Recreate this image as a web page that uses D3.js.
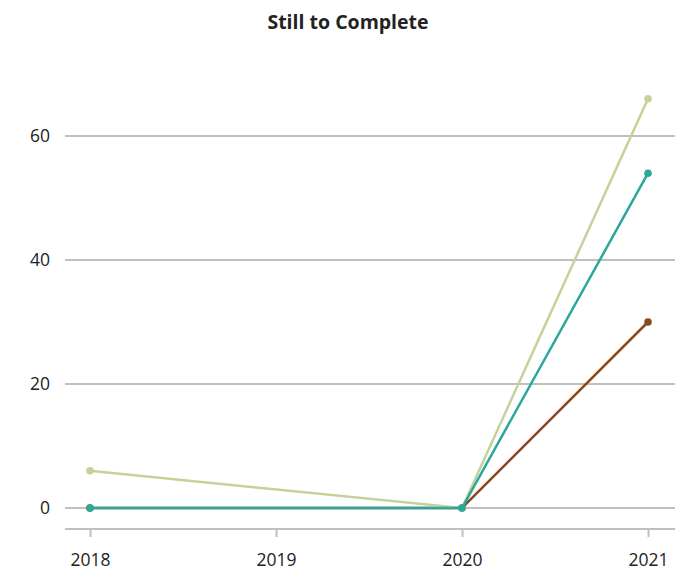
<!DOCTYPE html>
<html>
<head>
<meta charset="utf-8">
<script src="https://cdn.jsdelivr.net/npm/d3@7"></script>
<style>
  body { margin: 0; background: #fff; }
  svg text { font-family: "Open Sans", "Noto Sans", sans-serif; fill: #222; }
</style>
</head>
<body>
<svg id="chart" width="675" height="573"></svg>
<script>
const years = [2018, 2019, 2020, 2021];
const yTicks = [0, 20, 40, 60];
const seriesBrown = [0, null, 0, 30];
const seriesGreen = [6, null, 0, 66];
const seriesTeal = [0, null, 0, 54];

const series = [
  { name: "brown", color: "#8b4a1e", values: seriesBrown },
  { name: "green", color: "#c5d297", values: seriesGreen },
  { name: "teal", color: "#2ba89c", values: seriesTeal }
];

const svg = d3.select("#chart");
const left = 65, right = 675;

const x = d3.scaleLinear().domain([2018, 2021]).range([90, 648]);
const y = d3.scaleLinear().domain([0, 60]).range([508, 136]);
const axisY = 529;

svg.append("text")
  .attr("x", 348).attr("y", 29)
  .attr("text-anchor", "middle")
  .style("font-size", "19.5px").style("font-weight", "bold")
  .text("Still to Complete");

// horizontal grid
const grid = svg.append("g");
grid.selectAll("line").data(yTicks).join("line")
  .attr("x1", left).attr("x2", right)
  .attr("y1", d => y(d)).attr("y2", d => y(d))
  .attr("stroke", "#bfbfbf").attr("stroke-width", 2);

grid.selectAll("text").data(yTicks).join("text")
  .attr("x", 50).attr("y", d => y(d))
  .attr("dy", "0.35em")
  .attr("text-anchor", "end")
  .style("font-size", "17.5px")
  .text(d => d);

// x axis
const xAxis = d3.axisBottom(x).tickValues(years).tickFormat(d3.format("d"))
  .tickSize(8).tickPadding(17).tickSizeOuter(0);
const gx = svg.append("g").attr("transform", `translate(0,${axisY})`).call(xAxis);
gx.select(".domain").attr("d", `M${left},0H${right}`)
  .attr("stroke", "#bfbfbf").attr("stroke-width", 2);
gx.selectAll(".tick line").attr("stroke", "#bfbfbf").attr("stroke-width", 2);
gx.selectAll(".tick text").style("font-size", "17.5px")
  .style("font-family", "\"Open Sans\", \"Noto Sans\", sans-serif").attr("fill", "#222");

const line = d3.line()
  .defined(d => d.v !== null)
  .x(d => x(d.year)).y(d => y(d.v));

series.forEach(s => {
  const pts = years.map((yr, i) => ({ year: yr, v: s.values[i] }));
  const defined = pts.filter(p => p.v !== null);
  const g = svg.append("g");
  g.append("path")
    .datum(defined)
    .attr("d", line)
    .attr("fill", "none")
    .attr("stroke", s.color)
    .attr("stroke-width", 2.5);
  g.selectAll("circle").data(defined).join("circle")
    .attr("cx", d => x(d.year)).attr("cy", d => y(d.v))
    .attr("r", 3.8).attr("fill", s.color);
});
</script>
</body>
</html>
